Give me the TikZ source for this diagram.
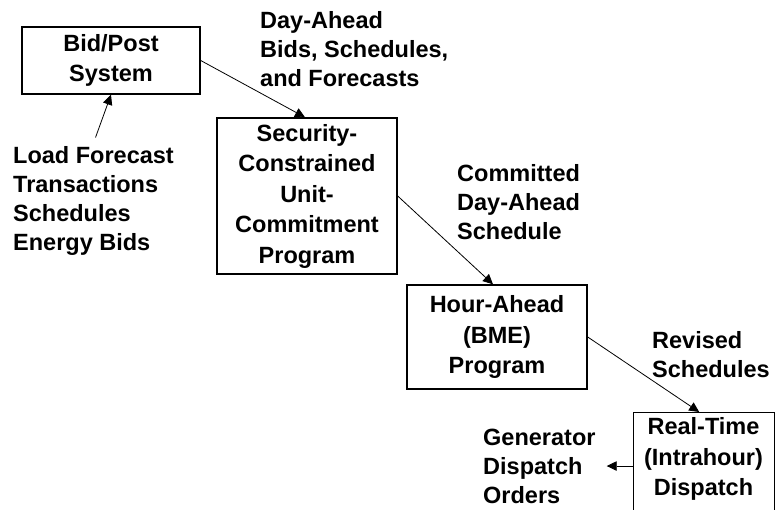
\documentclass[tikz,border=0pt]{standalone}
\usepackage{fontspec}
\setmainfont{Liberation Sans}
\usetikzlibrary{arrows.meta,calc}
\begin{document}
\begin{tikzpicture}[x=1pt,y=-1pt,
  every node/.style={font=\fontsize{23.5}{29}\selectfont\bfseries, inner sep=0pt},
  box/.style={draw, line width=1.4pt, inner sep=0pt},
  boxtext/.style={align=center, font=\fontsize{23.5}{30.5}\selectfont\bfseries},
  lbl/.style={align=left, anchor=north west},
  arr/.style={line width=0.8pt, -{Triangle[length=10pt,width=9.5pt]}}]
\useasboundingbox (0,0) rectangle (775,510);
\clip (0,0) rectangle (775,510);
% boxes
\node[box, boxtext, minimum width=178pt, minimum height=67pt] (bp) at (111,60.5) {Bid/Post\\System};
\node[box, boxtext, minimum width=180pt, minimum height=156pt] (scu) at (307,196) {Security-\\Constrained\\Unit-\\Commitment\\Program};
\node[box, boxtext, minimum width=180pt, minimum height=104pt] (hab) at (497,337) {Hour-Ahead\\(BME)\\Program};
\node[box, minimum width=141pt, minimum height=150pt, anchor=north west] (rt) at (633,412) {};
\node[boxtext] (rtt) at (703.5,459) {Real-Time\\(Intrahour)\\Dispatch};
% labels
\node[lbl] (da) at (260,11.5) {Day-Ahead\\Bids, Schedules,\\and Forecasts};
\node[lbl] (lf) at (13,146.5) {Load Forecast\\Transactions\\Schedules\\Energy Bids};
\node[lbl] (cd) at (457,164.5) {Committed\\Day-Ahead\\Schedule};
\node[lbl] (rs) at (652,331.5) {Revised\\Schedules};
\node[lbl] (gd) at (483,428.5) {Generator\\Dispatch\\Orders};
% connectors
\coordinate (lfa) at ($(lf.north)+(2,-9)$);
\coordinate (gde) at ($(gd.east)+(11,0)$);
\draw[arr] (bp.east) -- ($(scu.north)+(-2,0)$);
\draw[arr] (lfa) -- (bp.south);
\draw[arr] (scu.east) -- ($(hab.north)+(-4,0)$);
\draw[arr] (hab.east) -- ($(rt.north)+(-5,0)$);
\draw[arr] (rt.west |- gde) -- (gde);
\end{tikzpicture}
\end{document}
